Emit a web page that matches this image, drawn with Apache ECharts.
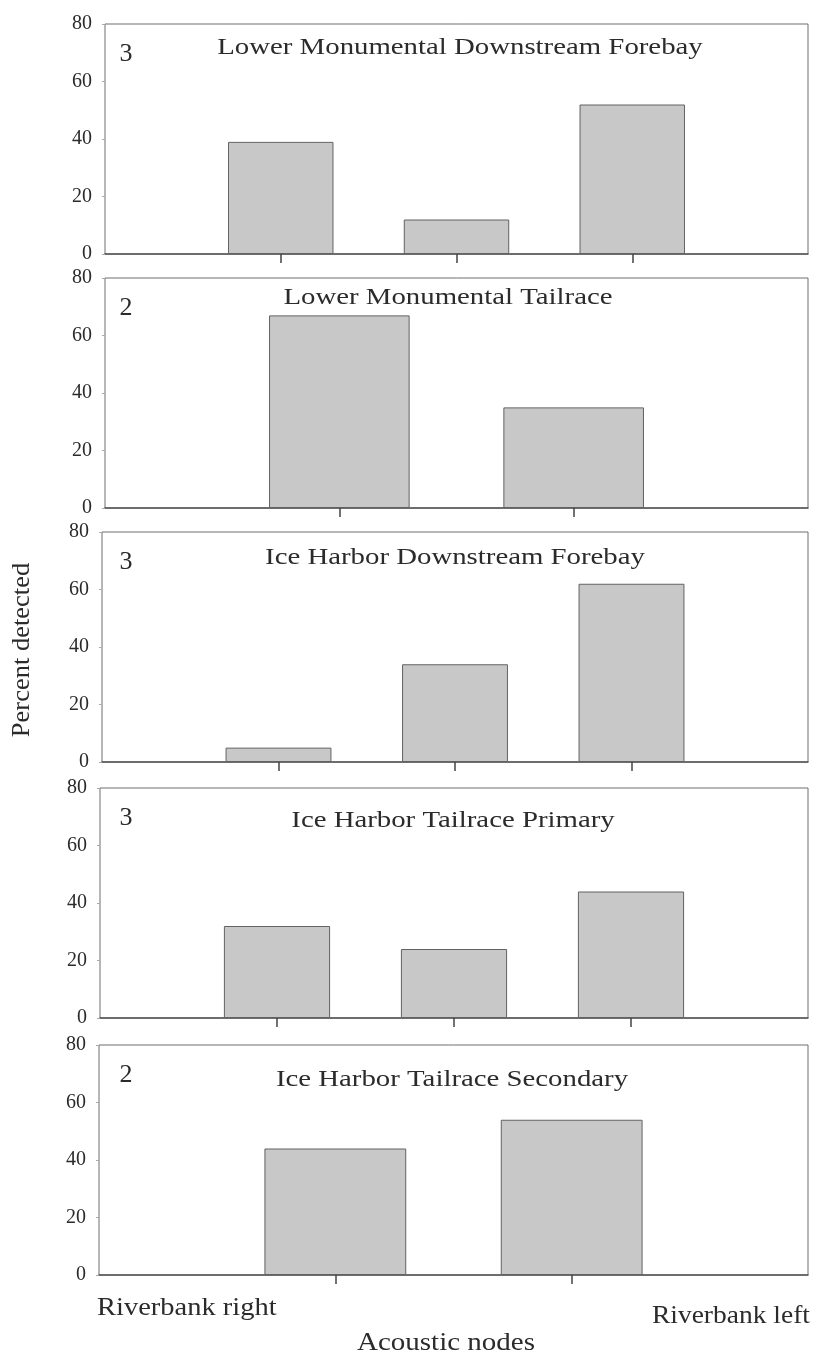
<!DOCTYPE html>
<html>
<head>
<meta charset="utf-8">
<script src="https://cdn.jsdelivr.net/npm/echarts@6/dist/echarts.min.js"></script>
<style>
  html, body { margin: 0; padding: 0; background: #fff; }
  #chart { width: 819px; height: 1358px; }
</style>
</head>
<body>
<div id="chart"></div>
<script>
// panel data, top to bottom
const panelTitles = [
    'Lower Monumental Downstream Forebay',
    'Lower Monumental Tailrace',
    'Ice Harbor Downstream Forebay',
    'Ice Harbor Tailrace Primary',
    'Ice Harbor Tailrace Secondary'
];
const nodeCounts = ['3', '2', '3', '3', '2'];
const lmDownstreamForebay = [39, 12, 52];
const lmTailrace = [67, 35];
const ihDownstreamForebay = [5, 34, 62];
const ihTailracePrimary = [32, 24, 44];
const ihTailraceSecondary = [44, 54];
const yTicks = [0, 20, 40, 60, 80];
const bankLabels = ['Riverbank right', 'Riverbank left'];
const xAxisTitle = 'Acoustic nodes';
const yAxisTitle = 'Percent detected';

const panelValues = [lmDownstreamForebay, lmTailrace, ihDownstreamForebay, ihTailracePrimary, ihTailraceSecondary];

// layout
const panelTop = [24, 278, 532, 788, 1045];
const panelLeft = [105, 105, 102, 100, 99];
const panelRight = 808;
const panelHeight = 230;
const titleX = [460, 448, 455, 453, 452];
const titleDy = [24, 20, 26, 33, 35];

const serif = '"Liberation Serif", "Times New Roman", serif';
const ink = '#2b2b2b';

const grids = [], xAxes = [], yAxes = [], series = [], graphics = [];

function label(text, x, y, size, opts) {
    return Object.assign({
        type: 'text', x: x, y: y,
        style: { text: text, fontFamily: serif, fontSize: size, fill: ink, textAlign: 'center', textVerticalAlign: 'middle' }
    }, opts || {});
}

panelValues.forEach((vals, i) => {
    // bars sit on the inner points, the box edges are empty points
    const cats = ['', ...vals.map((v, k) => 'node ' + (k + 1)), ''];
    grids.push({
        left: panelLeft[i], top: panelTop[i],
        width: panelRight - panelLeft[i], height: panelHeight,
        show: true, borderColor: '#6e6e6e', borderWidth: 1, backgroundColor: '#fff'
    });
    xAxes.push({
        type: 'category', gridIndex: i, data: cats, boundaryGap: false,
        axisLine: { show: true, lineStyle: { color: '#555', width: 1.5 } },
        axisTick: {
            show: true, length: 9, lineStyle: { color: '#444', width: 1.5 },
            interval: (idx) => idx > 0 && idx < cats.length - 1
        },
        axisLabel: { show: false },
        splitLine: { show: false }
    });
    yAxes.push({
        type: 'value', gridIndex: i, min: yTicks[0], max: yTicks[yTicks.length - 1], interval: 20,
        axisLine: { show: false },
        axisTick: { show: true, length: 3, lineStyle: { color: '#aaa' } },
        axisLabel: { color: ink, fontFamily: serif, fontSize: 20, margin: 13 },
        splitLine: { show: false }
    });
    series.push({
        type: 'bar', xAxisIndex: i, yAxisIndex: i,
        data: ['-', ...vals, '-'],
        barWidth: '60%',
        itemStyle: { color: '#c8c8c8', borderColor: '#626262', borderWidth: 1 },
        silent: true
    });

    const top = panelTop[i];
    graphics.push(label(nodeCounts[i], 126, top + 30, 26));
    graphics.push(label(panelTitles[i], titleX[i], top + titleDy[i], 24, { scaleX: 1.2 }));
});

// bottom labels and axis titles
const left = label(bankLabels[0], 97, 1308, 25, { scaleX: 1.14 });
left.style.textAlign = 'left';
graphics.push(left);
const right = label(bankLabels[1], 810, 1316, 25, { scaleX: 1.1 });
right.style.textAlign = 'right';
graphics.push(right);
graphics.push(label(xAxisTitle, 446, 1343, 25, { scaleX: 1.16 }));
graphics.push(label(yAxisTitle, 22, 650, 25, { rotation: Math.PI / 2, scaleX: 1.06 }));

const chart = echarts.init(document.getElementById('chart'), null, { renderer: 'canvas' });
chart.setOption({
    backgroundColor: '#fff',
    animation: false,
    grid: grids,
    xAxis: xAxes,
    yAxis: yAxes,
    series: series,
    graphic: graphics
});
</script>
</body>
</html>
